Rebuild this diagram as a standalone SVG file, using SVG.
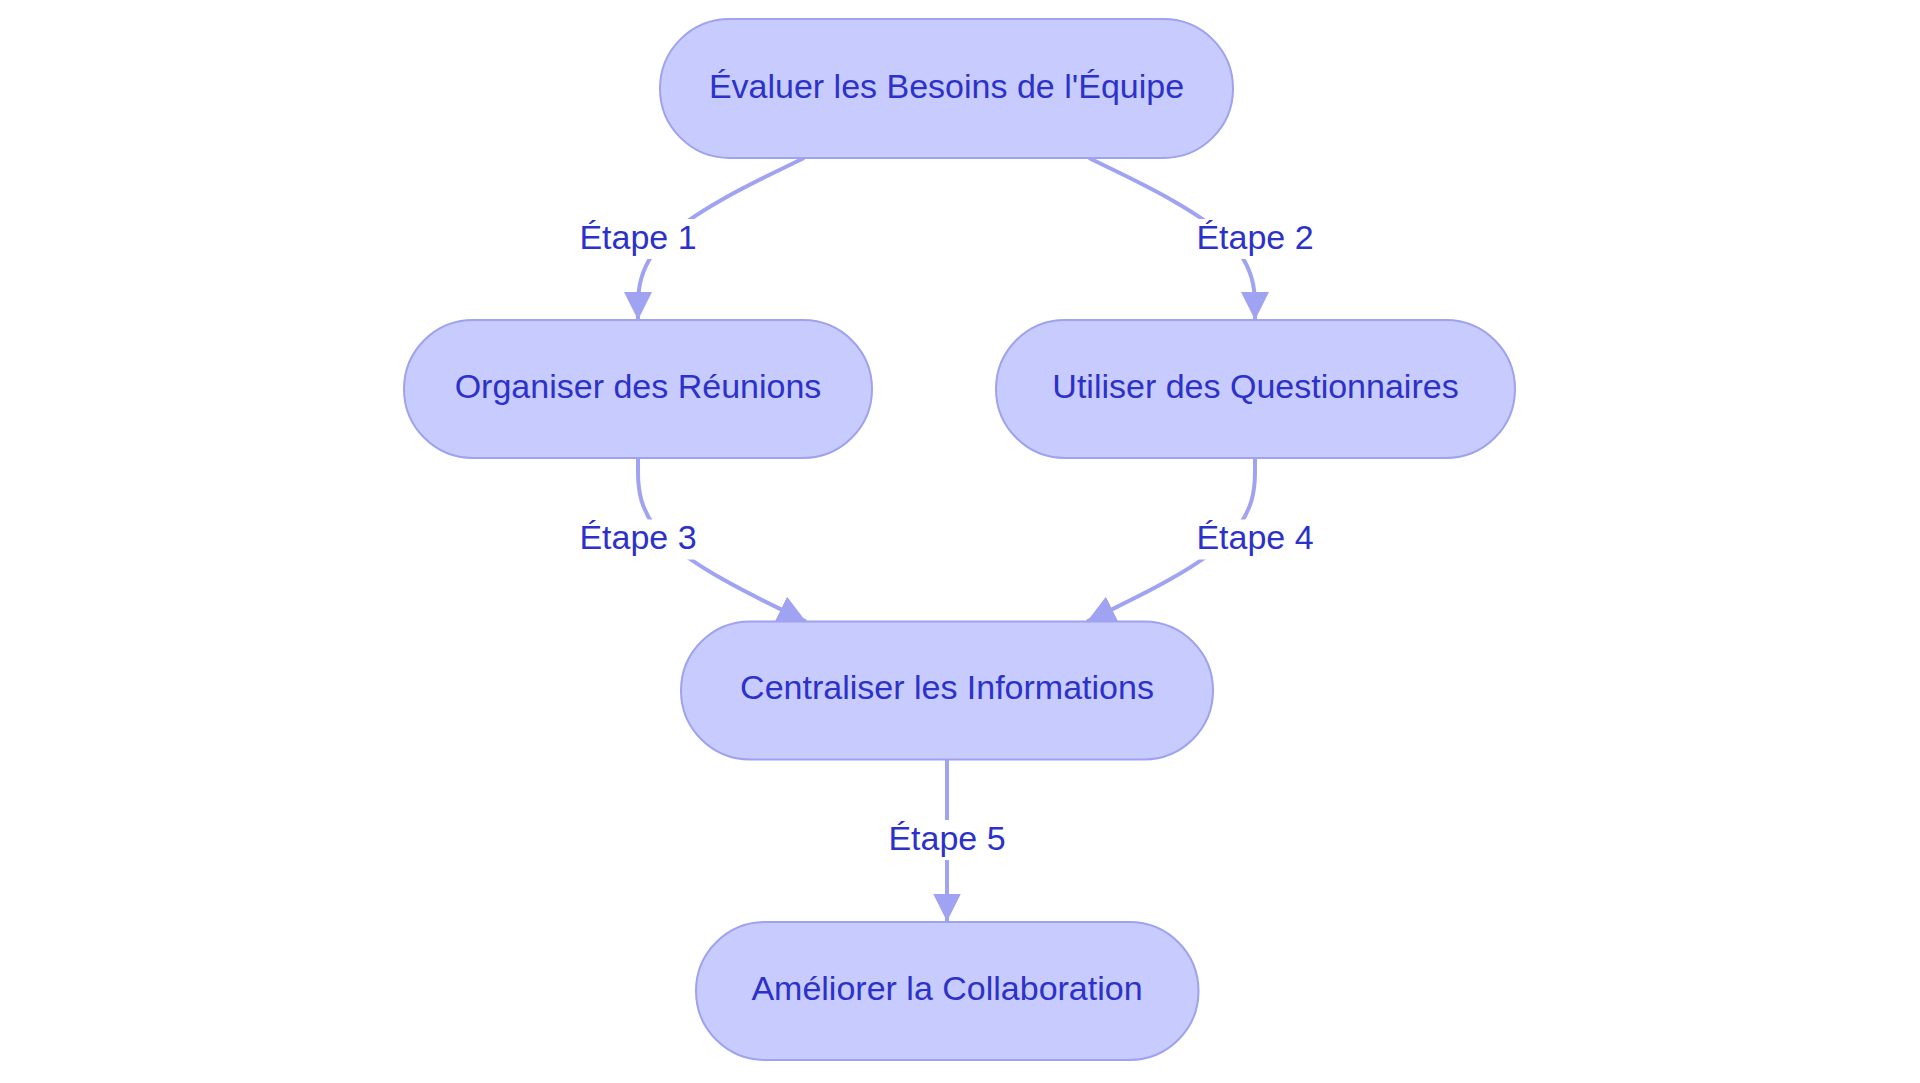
<svg xmlns="http://www.w3.org/2000/svg" width="1920" height="1083" viewBox="0 0 1920 1083">
  <style>
    .node rect { fill: #c8cbfd; stroke: #9ea2ef; stroke-width: 2; }
    .node text { font-family: "Liberation Sans", Arial, sans-serif; font-size: 34px; fill: #2c32c9; text-anchor: middle; }
    .edge { fill: none; stroke: #a0a3f1; stroke-width: 4; marker-end: url(#arrow); }
    .label rect { fill: #ffffff; }
    .label text { font-family: "Liberation Sans", Arial, sans-serif; font-size: 34px; fill: #2c32c9; text-anchor: middle; }
  </style>
  <defs>
    <marker id="arrow" viewBox="0 0 10 10" refX="10" refY="5" markerUnits="userSpaceOnUse" markerWidth="28" markerHeight="28" orient="auto">
      <path d="M0,0 L10,5 L0,10 z" fill="#a0a3f1"/>
    </marker>
  </defs>
  <rect x="0" y="0" width="1920" height="1083" fill="#ffffff"/>

  <g id="connectors">
    <path class="edge" d="M804,158 L776.33,171.5 C748.67,185 693.33,212 665.67,239 C638,266 638,293 638,306.5 L638,320"/>
    <path class="edge" d="M1089,158 L1116.67,171.5 C1144.33,185 1199.67,212 1227.33,239 C1255,266 1255,293 1255,306.5 L1255,320"/>
    <path class="edge" d="M638,458 L638,471.58 C638,485.17 638,512.33 666,539.58 C694,566.83 750,594.17 778,607.83 L806,621.5"/>
    <path class="edge" d="M1255,458 L1255,471.58 C1255,485.17 1255,512.33 1227,539.58 C1199,566.83 1143,594.17 1115,607.83 L1087,621.5"/>
    <path class="edge" d="M947,759 L947,921.5"/>
  </g>

  <g id="edge-labels">
    <g class="label" id="label-1"><rect x="580" y="219" width="116" height="40"/><text x="638" y="249">Étape 1</text></g>
    <g class="label" id="label-2"><rect x="1195" y="219" width="120" height="40"/><text x="1255" y="249">Étape 2</text></g>
    <g class="label" id="label-3"><rect x="578" y="519.5" width="120" height="40"/><text x="638" y="549">Étape 3</text></g>
    <g class="label" id="label-4"><rect x="1195" y="519.5" width="120" height="40"/><text x="1255" y="549">Étape 4</text></g>
    <g class="label" id="label-5"><rect x="887" y="820" width="120" height="40"/><text x="947" y="850">Étape 5</text></g>
  </g>

  <g class="node" id="node-evaluer">
    <rect x="660" y="19" width="573" height="139" rx="69.5" ry="69.5"/>
    <text x="946.5" y="98">Évaluer les Besoins de l'Équipe</text>
  </g>
  <g class="node" id="node-organiser">
    <rect x="404" y="320" width="468" height="138" rx="69" ry="69"/>
    <text x="638" y="398">Organiser des Réunions</text>
  </g>
  <g class="node" id="node-utiliser">
    <rect x="996" y="320" width="519" height="138" rx="69" ry="69"/>
    <text x="1255.5" y="398">Utiliser des Questionnaires</text>
  </g>
  <g class="node" id="node-centraliser">
    <rect x="681" y="621.5" width="532" height="138" rx="69" ry="69"/>
    <text x="947" y="699">Centraliser les Informations</text>
  </g>
  <g class="node" id="node-ameliorer">
    <rect x="696" y="922" width="502.5" height="138" rx="69" ry="69"/>
    <text x="947" y="1000">Améliorer la Collaboration</text>
  </g>
</svg>
